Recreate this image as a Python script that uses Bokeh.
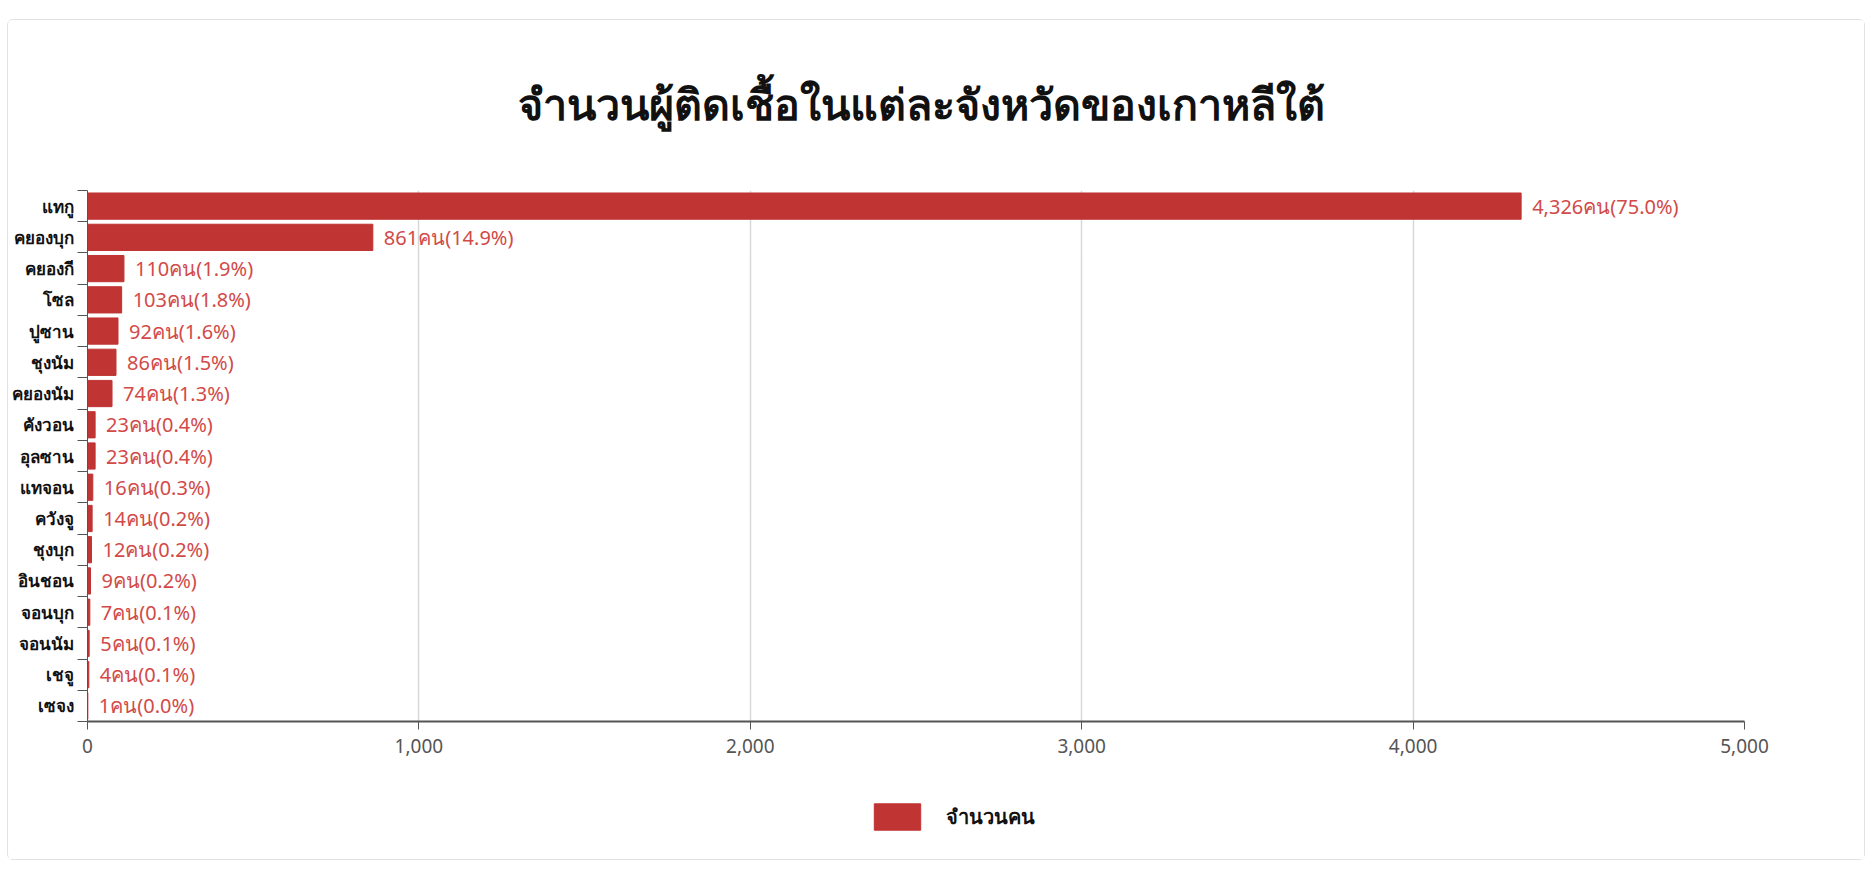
from bokeh.plotting import figure
from bokeh.layouts import column
from bokeh.models import ColumnDataSource, Range1d, FixedTicker, NumeralTickFormatter, Legend, LegendItem, Label
from bokeh.embed import file_html
from bokeh.resources import INLINE
from bokeh.core.properties import value

provinces = ["แทกู", "คยองบุก", "คยองกี", "โซล", "ปูซาน", "ชุงนัม", "คยองนัม", "คังวอน",
             "อุลซาน", "แทจอน", "ควังจู", "ชุงบุก", "อินชอน", "จอนบุก", "จอนนัม", "เชจู", "เซจง"]
counts = [4326, 861, 110, 103, 92, 86, 74, 23, 23, 16, 14, 12, 9, 7, 5, 4, 1]
percents = [75.0, 14.9, 1.9, 1.8, 1.6, 1.5, 1.3, 0.4, 0.4, 0.3, 0.2, 0.2, 0.2, 0.1, 0.1, 0.1, 0.0]
x_ticks = [0, 1000, 2000, 3000, 4000, 5000]
title_text = "จำนวนผู้ติดเชื้อในแต่ละจังหวัดของเกาหลีใต้"
series_name = "จำนวนคน"

n = len(provinces)
ys = list(range(n))
labels = [f"{c:,}คน({p:.1f}%)" for c, p in zip(counts, percents)]
src = ColumnDataSource(dict(y=ys, count=counts, label=labels))

FONT = "Noto Sans"
BAR = "#c03434"
W = 1856


def strip(h):
    f = figure(width=W, height=h, output_backend="svg", toolbar_location=None,
               x_range=Range1d(0, 1), y_range=Range1d(0, 1),
               x_axis_type=None, y_axis_type=None,
               min_border_left=0, min_border_right=0, min_border_top=0, min_border_bottom=0)
    f.outline_line_color = None
    f.grid.visible = False
    return f


# title strip
pt = strip(130)
pt.add_layout(Label(x=834, y=47, x_units="screen", y_units="screen", text=title_text,
                    text_align="center", text_baseline="middle", text_font=FONT,
                    text_font_size="43px", text_font_style="bold", text_color="#111111"))

# main chart
p = figure(width=W, height=620, output_backend="svg", toolbar_location=None,
           x_range=Range1d(0, 5000), y_range=Range1d(n - 0.5, -0.5),
           min_border_left=76, min_border_right=120, min_border_top=40, min_border_bottom=49)
p.outline_line_color = None

p.hbar(y="y", left=0, right="count", height=0.84, source=src, color=BAR)
p.text(x="count", y="y", text="label", source=src, x_offset=11,
       text_baseline="middle", text_align="left", text_font=value(FONT),
       text_font_size="20px", text_color="#d24a48")

# x axis
p.xaxis.ticker = FixedTicker(ticks=x_ticks)
p.xaxis.formatter = NumeralTickFormatter(format="0,0")
p.xaxis.axis_line_color = "#555555"
p.xaxis.axis_line_width = 2
p.xaxis.major_tick_line_color = "#555555"
p.xaxis.major_tick_out = 8
p.xaxis.major_tick_in = 0
p.xaxis.minor_tick_line_color = None
p.xaxis.major_label_text_font = FONT
p.xaxis.major_label_text_font_size = "19px"
p.xaxis.major_label_text_color = "#555555"
p.xaxis.major_label_standoff = 9

# y axis
p.yaxis.ticker = FixedTicker(ticks=ys, minor_ticks=[i - 0.5 for i in range(n + 1)])
p.yaxis.major_label_overrides = {i: name for i, name in enumerate(provinces)}
p.yaxis.major_tick_line_color = None
p.yaxis.minor_tick_line_color = "#555555"
p.yaxis.minor_tick_out = 10
p.yaxis.minor_tick_in = 0
p.yaxis.axis_line_color = "#555555"
p.yaxis.axis_line_width = 1
p.yaxis.major_label_text_font = FONT
p.yaxis.major_label_text_font_size = "17px"
p.yaxis.major_label_text_font_style = "bold"
p.yaxis.major_label_text_color = "#111111"
p.yaxis.major_label_standoff = 4

p.xgrid.ticker = FixedTicker(ticks=x_ticks)
p.xgrid.grid_line_color = "#d8d8d8"
p.xgrid.grid_line_width = 1.5
p.ygrid.grid_line_color = None

# legend strip (its swatch comes from an off-screen copy of the first bar)
pl = strip(89)
rl = pl.hbar(y=[-5], left=[0], right=counts[:1], height=0.8, color=BAR)
legend = Legend(items=[LegendItem(label=series_name, renderers=[rl])],
                orientation="horizontal", location=(781, 26),
                glyph_width=58, glyph_height=33, label_text_font=FONT,
                label_text_font_size="20px", label_text_font_style="bold",
                label_text_color="#111111", border_line_color=None,
                background_fill_alpha=0, margin=0,
                padding=6, label_standoff=20)
pl.add_layout(legend, "center")

layout = column(pt, p, pl, spacing=0,
                styles={"border": "1px solid #e2e2e2", "border-radius": "6px",
                        "margin-top": "19px", "margin-left": "7px"})

open("out.html", "w").write(file_html(layout, INLINE))
